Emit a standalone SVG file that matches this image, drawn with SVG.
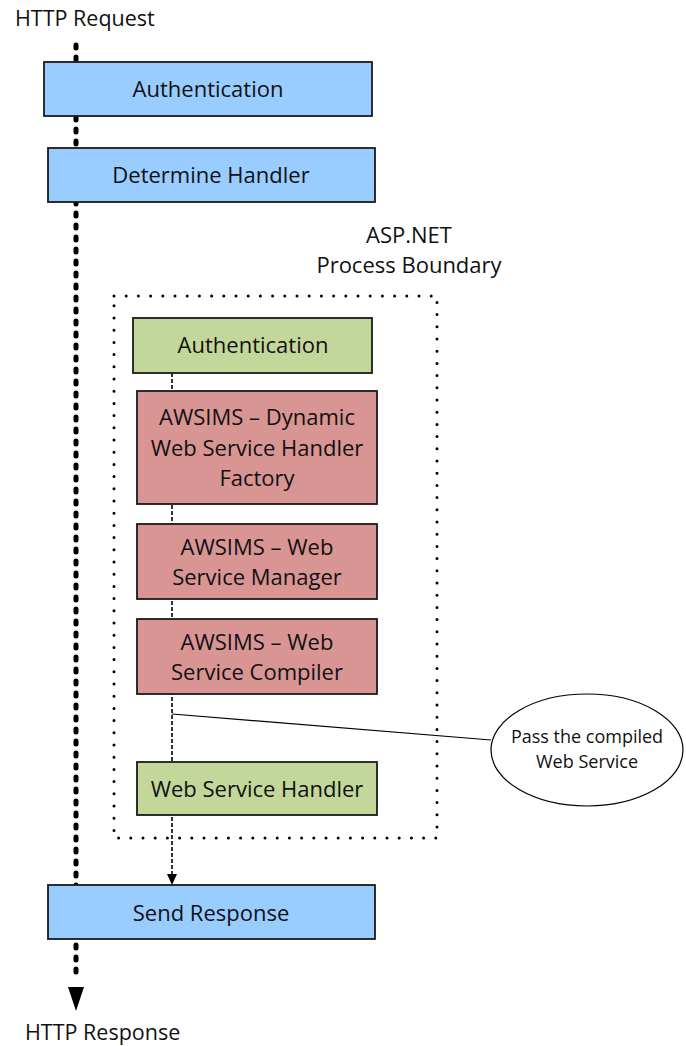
<svg xmlns="http://www.w3.org/2000/svg" width="686" height="1046" viewBox="0 0 686 1046">
<defs>
<style>
text{font-family:"Open Sans","Liberation Sans",sans-serif;fill:#111;}
.t{font-size:22px;text-anchor:middle;}
.lbl{font-size:21.5px;}
.blue{fill:#99ccff;stroke:#1a1a1a;stroke-width:1.8;}
.green{fill:#c4d79b;stroke:#1a1a1a;stroke-width:1.8;}
.red{fill:#d99594;stroke:#1a1a1a;stroke-width:1.8;}
.main{stroke:#000;stroke-width:5;stroke-dasharray:3 9;fill:none;stroke-linecap:round;}
.thin{stroke:#000;stroke-width:1.6;stroke-dasharray:4 2;fill:none;}
</style>
</defs>
<rect width="686" height="1046" fill="#fff"/>

<g id="labels">
<text class="lbl" x="15" y="26">HTTP Request</text>
<text class="lbl" x="25" y="1040">HTTP Response</text>
</g>

<g id="connectors">
<line class="main" x1="76" y1="45" x2="76" y2="980"/>
<path d="M68,987 L84,987 L76,1011 Z" fill="#000"/>
<line class="thin" x1="172" y1="373" x2="172" y2="876"/>
<path d="M167,874 L177,874 L172,885 Z" fill="#000"/>
<line x1="172" y1="714" x2="491" y2="740" stroke="#000" stroke-width="1.2"/>
</g>

<g id="boundary">
<rect x="114" y="296" width="323" height="542" fill="none" stroke="#000" stroke-width="3" stroke-dasharray="0 12.2" stroke-linecap="round"/>
<text class="t" x="409" y="243">ASP.NET</text>
<text class="t" x="409" y="273">Process Boundary</text>
</g>

<g id="auth1">
<rect class="blue" x="44" y="62" width="328" height="54"/>
<text class="t" x="208" y="97">Authentication</text>
</g>
<g id="determine">
<rect class="blue" x="48" y="148" width="327" height="54"/>
<text class="t" x="211" y="183">Determine Handler</text>
</g>
<g id="auth2">
<rect class="green" x="133" y="318" width="239" height="55"/>
<text class="t" x="253" y="353">Authentication</text>
</g>
<g id="factory">
<rect class="red" x="137" y="391" width="240" height="113"/>
<text class="t" x="257" y="425">AWSIMS – Dynamic</text>
<text class="t" x="257" y="456">Web Service Handler</text>
<text class="t" x="257" y="486">Factory</text>
</g>
<g id="manager">
<rect class="red" x="137" y="524" width="240" height="75"/>
<text class="t" x="257" y="555">AWSIMS – Web</text>
<text class="t" x="257" y="585">Service Manager</text>
</g>
<g id="compiler">
<rect class="red" x="137" y="619" width="240" height="75"/>
<text class="t" x="257" y="650">AWSIMS – Web</text>
<text class="t" x="257" y="680">Service Compiler</text>
</g>
<g id="wshandler">
<rect class="green" x="137" y="762" width="240" height="53"/>
<text class="t" x="257" y="797">Web Service Handler</text>
</g>
<g id="send">
<rect class="blue" x="48" y="885" width="327" height="54"/>
<text class="t" x="211" y="921">Send Response</text>
</g>
<g id="note">
<ellipse cx="587" cy="750" rx="96" ry="56" fill="#fff" stroke="#000" stroke-width="1.2"/>
<text x="587" y="743" style="font-size:18px;text-anchor:middle">Pass the compiled</text>
<text x="587" y="768" style="font-size:18px;text-anchor:middle">Web Service</text>
</g>
</svg>
